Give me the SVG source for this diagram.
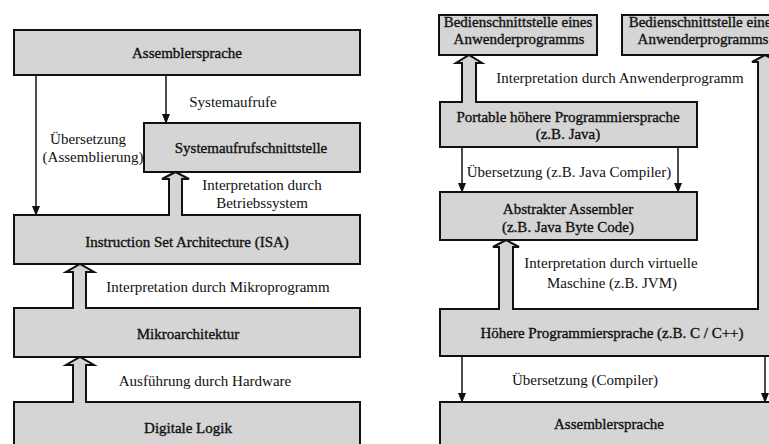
<svg xmlns="http://www.w3.org/2000/svg" width="769" height="444" viewBox="0 0 769 444">
<style>
.box{fill:#d5d5d5;stroke:#111;stroke-width:2}
.lbl{font-family:"Liberation Serif","Times New Roman",serif;font-size:15px;fill:#111;text-anchor:middle;stroke:#111;stroke-width:0.35}
.txt{font-family:"Liberation Serif","Times New Roman",serif;font-size:15px;fill:#111;text-anchor:middle}
.thin{stroke:#111;stroke-width:1.5;fill:none}
.hfill{fill:#d5d5d5;stroke:none}
.hline{fill:none;stroke:#111;stroke-width:2;stroke-linejoin:miter}
</style>
<defs>
<marker id="ah" markerWidth="10" markerHeight="10" refX="9" refY="5" orient="auto" markerUnits="userSpaceOnUse">
<path d="M0,1 L10,5 L0,9 Z" fill="#111"/>
</marker>
</defs>
<rect width="769" height="444" fill="#fff"/>

<g id="l-asm"><rect class="box" x="14" y="30" width="346" height="45"/><text class="lbl" x="187" y="58">Assemblersprache</text></g>
<g id="l-sys"><rect class="box" x="144" y="123" width="216" height="49"/><text class="lbl" x="251" y="153">Systemaufrufschnittstelle</text></g>
<g id="l-isa"><rect class="box" x="14" y="215" width="346" height="49"/><text class="lbl" x="187" y="247">Instruction Set Architecture (ISA)</text></g>
<g id="l-mikro"><rect class="box" x="14" y="308" width="346" height="49"/><text class="lbl" x="188" y="339">Mikroarchitektur</text></g>
<g id="l-logik"><rect class="box" x="14" y="402" width="346" height="50"/><text class="lbl" x="188" y="433">Digitale Logik</text></g>

<g id="r-bedien1"><rect class="box" x="439" y="15" width="158" height="40"/><text class="lbl" x="518" y="27">Bedienschnittstelle eines</text><text class="lbl" x="519" y="44">Anwenderprogramms</text></g>
<g id="r-bedien2"><rect class="box" x="622" y="15" width="170" height="40"/><text class="lbl" x="703" y="27">Bedienschnittstelle eines</text><text class="lbl" x="703" y="44">Anwenderprogramms</text></g>
<g id="r-portable"><rect class="box" x="440" y="102" width="257" height="45"/><text class="lbl" x="568" y="122">Portable höhere Programmiersprache</text><text class="lbl" x="568" y="139">(z.B. Java)</text></g>
<g id="r-abstrakt"><rect class="box" x="440" y="192" width="257" height="48"/><text class="lbl" x="568" y="214">Abstrakter Assembler</text><text class="lbl" x="568" y="232">(z.B. Java Byte Code)</text></g>
<g id="r-hoehere"><rect class="box" x="440" y="309" width="350" height="47"/><text class="lbl" x="612" y="338">Höhere Programmiersprache (z.B. C / C++)</text></g>
<g id="r-asm"><rect class="box" x="440" y="402" width="350" height="50"/><text class="lbl" x="609" y="429">Assemblersprache</text></g>

<g id="connectors">
<line class="thin" x1="36" y1="75" x2="36" y2="215" marker-end="url(#ah)"/>
<line class="thin" x1="166" y1="75" x2="166" y2="123" marker-end="url(#ah)"/>
<line class="thin" x1="462" y1="147" x2="462" y2="192" marker-end="url(#ah)"/>
<line class="thin" x1="678" y1="147" x2="678" y2="192" marker-end="url(#ah)"/>
<line class="thin" x1="462" y1="356" x2="462" y2="402" marker-end="url(#ah)"/>
<line class="thin" x1="765" y1="356" x2="765" y2="402" marker-end="url(#ah)"/>

<polygon class="hfill" points="169,217 169,179 162,179 175.5,172 189,179 182,179 182,217"/>
<polyline class="hline" points="169,216 169,179 162,179 175.5,172 189,179 182,179 182,216"/>

<polygon class="hfill" points="73,310 73,272 66,272 80,264 94,272 86,272 86,310"/>
<polyline class="hline" points="73,309 73,272 66,272 80,264 94,272 86,272 86,309"/>

<polygon class="hfill" points="73,404 73,365 66,365 80,357 94,365 86,365 86,404"/>
<polyline class="hline" points="73,403 73,365 66,365 80,357 94,365 86,365 86,403"/>

<polygon class="hfill" points="462,104 462,63 456,63 469,55 482,63 476,63 476,104"/>
<polyline class="hline" points="462,103 462,63 456,63 469,55 482,63 476,63 476,103"/>

<polygon class="hfill" points="499,311 499,247 493,247 506,240 519,247 513,247 513,311"/>
<polyline class="hline" points="499,310 499,247 493,247 506,240 519,247 513,247 513,310"/>

<polygon class="hfill" points="758,311 758,62 752,62 765,55 778,62 772,62 772,311"/>
<polyline class="hline" points="758,310 758,62 752,62 765,55 778,62 772,62 772,310"/>
</g>

<g id="labels">
<text class="txt" x="233" y="107">Systemaufrufe</text>
<text class="txt" x="88" y="144">Übersetzung</text>
<text class="txt" x="93" y="162">(Assemblierung)</text>
<text class="txt" x="262" y="190">Interpretation durch</text>
<text class="txt" x="262" y="208">Betriebssystem</text>
<text class="txt" x="218" y="292">Interpretation durch Mikroprogramm</text>
<text class="txt" x="205" y="386">Ausführung durch Hardware</text>
<text class="txt" x="620" y="83">Interpretation durch Anwenderprogramm</text>
<text class="txt" x="569" y="177">Übersetzung (z.B. Java Compiler)</text>
<text class="txt" x="611" y="268">Interpretation durch virtuelle</text>
<text class="txt" x="612" y="288">Maschine (z.B. JVM)</text>
<text class="txt" x="585" y="385">Übersetzung (Compiler)</text>
</g>
</svg>
